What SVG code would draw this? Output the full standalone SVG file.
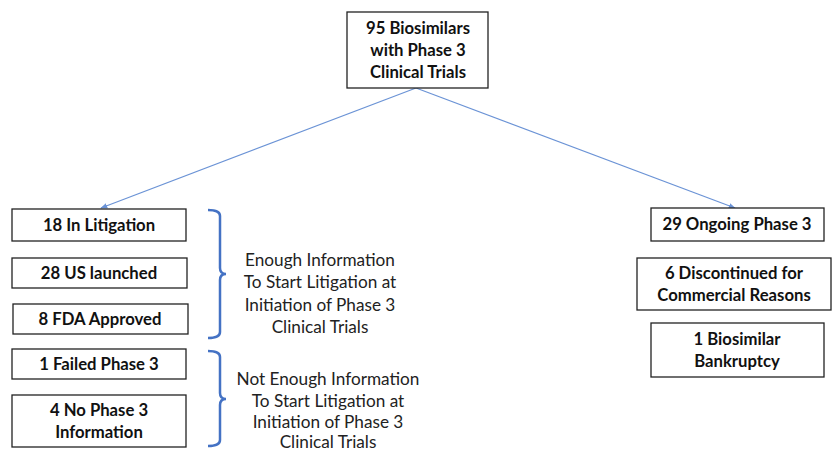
<svg xmlns="http://www.w3.org/2000/svg" width="832" height="452" viewBox="0 0 832 452">
<defs>
<style>
.box{fill:#fff;stroke:#222;stroke-width:1.3}
.b{font-family:Lato,"Liberation Sans",sans-serif;font-weight:bold;font-size:16.7px;fill:#111;text-anchor:middle}
.n{font-family:Lato,"Liberation Sans",sans-serif;font-size:17.2px;fill:#222;text-anchor:middle}
.con{stroke:#6b93d6;stroke-width:1.2;fill:none}
.brace{stroke:#4472c4;stroke-width:2.5;fill:none}
</style>
<marker id="ah" viewBox="0 0 10 10" refX="9" refY="5" markerWidth="7" markerHeight="7" orient="auto" markerUnits="userSpaceOnUse">
<path d="M0,1 L10,5 L0,9 Z" fill="#6b93d6"/>
</marker>
</defs>
<rect width="832" height="452" fill="#fff"/>
<g id="connectors">
<line class="con" x1="416" y1="88" x2="101" y2="208" marker-end="url(#ah)"/>
<line class="con" x1="416" y1="88" x2="735" y2="208" marker-end="url(#ah)"/>
</g>
<g id="top">
<rect class="box" x="347" y="12" width="141" height="76"/>
<text class="b" x="418" y="34">95 Biosimilars</text>
<text class="b" x="418" y="56">with Phase 3</text>
<text class="b" x="418" y="78">Clinical Trials</text>
</g>
<g id="litigation">
<rect class="box" x="12" y="209" width="174" height="32"/>
<text class="b" x="99" y="231">18 In Litigation</text>
</g>
<g id="launched">
<rect class="box" x="12" y="258" width="175" height="30"/>
<text class="b" x="99" y="279">28 US launched</text>
</g>
<g id="approved">
<rect class="box" x="13" y="304" width="175" height="30"/>
<text class="b" x="100" y="325">8 FDA Approved</text>
</g>
<g id="failed">
<rect class="box" x="12" y="349" width="174" height="30"/>
<text class="b" x="99" y="370">1 Failed Phase 3</text>
</g>
<g id="nophase">
<rect class="box" x="12" y="395" width="174" height="52"/>
<text class="b" x="99" y="416">4 No Phase 3</text>
<text class="b" x="99" y="438">Information</text>
</g>
<g id="brace1">
<path class="brace" d="M208,210 Q220,210 220,216 L220,268 Q220,274 226,274 Q220,274 220,280 L220,332 Q220,338 208,338"/>
<text class="n" x="320" y="266">Enough Information</text>
<text class="n" x="320" y="288">To Start Litigation at</text>
<text class="n" x="320" y="311">Initiation of Phase 3</text>
<text class="n" x="320" y="333">Clinical Trials</text>
</g>
<g id="brace2">
<path class="brace" d="M208,351 Q220,351 220,357 L220,393 Q220,399 226,399 Q220,399 220,405 L220,440 Q220,446 208,446"/>
<text class="n" x="328" y="385">Not Enough Information</text>
<text class="n" x="328" y="407">To Start Litigation at</text>
<text class="n" x="328" y="428">Initiation of Phase 3</text>
<text class="n" x="328" y="448">Clinical Trials</text>
</g>
<g id="ongoing">
<rect class="box" x="651" y="208" width="173" height="33"/>
<text class="b" x="737" y="230">29 Ongoing Phase 3</text>
</g>
<g id="discontinued">
<rect class="box" x="637" y="258" width="194" height="52"/>
<text class="b" x="734" y="279">6 Discontinued for</text>
<text class="b" x="734" y="301">Commercial Reasons</text>
</g>
<g id="bankruptcy">
<rect class="box" x="651" y="323" width="173" height="54"/>
<text class="b" x="737" y="345">1 Biosimilar</text>
<text class="b" x="737" y="367">Bankruptcy</text>
</g>
</svg>
